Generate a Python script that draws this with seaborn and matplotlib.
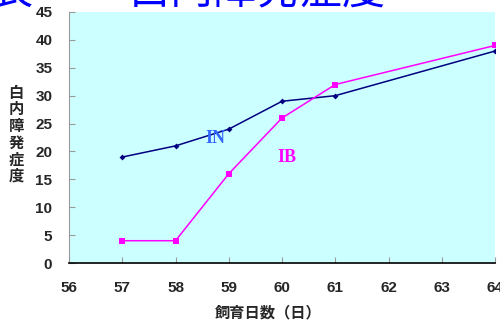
import matplotlib
matplotlib.use("Agg")
import matplotlib.pyplot as plt
import seaborn as sns
import pandas as pd

days = [57, 58, 59, 60, 61, 64]
in_values = [19, 21, 24, 29, 30, 38]
ib_values = [4, 4, 16, 26, 32, 39]
x_ticks = [56, 57, 58, 59, 60, 61, 62, 63, 64]
y_ticks = [0, 5, 10, 15, 20, 25, 30, 35, 40, 45]

sns.set_style("ticks")
plt.rcParams["font.family"] = ["Noto Sans CJK JP", "DejaVu Sans"]

df = pd.DataFrame({
    "day": days * 2,
    "score": in_values + ib_values,
    "group": ["IN"] * len(days) + ["IB"] * len(days),
})

fig = plt.figure(figsize=(5.0, 3.2), dpi=100)
ax = fig.add_axes([0.138, 0.178, 0.852, 0.7845])
ax.set_facecolor("#CCFFFF")

sns.lineplot(data=df[df.group == "IN"], x="day", y="score", ax=ax,
             color="#000080", marker="D", markersize=3, markeredgewidth=0,
             linewidth=1.1, legend=False)
sns.lineplot(data=df[df.group == "IB"], x="day", y="score", ax=ax,
             color="#FF00FF", marker="s", markersize=5, markeredgewidth=0,
             linewidth=1.1, legend=False)

ax.set_xlim(56, 64)
ax.set_ylim(0, 45)
ax.set_xticks(x_ticks)
ax.set_yticks(y_ticks)
ax.tick_params(axis="both", direction="in", length=4, color="#999999",
               labelsize=11)
ax.tick_params(axis="x", pad=13)
ax.tick_params(axis="y", pad=12)
for lab in ax.get_xticklabels() + ax.get_yticklabels():
    lab.set_fontweight("heavy")
    lab.set_family(["Liberation Sans", "DejaVu Sans"])

for s in ["top", "right"]:
    ax.spines[s].set_visible(False)
ax.spines["left"].set_color("#999999")
ax.spines["bottom"].set_color("black")
ax.spines["bottom"].set_linewidth(1.2)

ax.set_xlabel("")
ax.set_ylabel("")
fig.text(0.536, 0.025, "飼育日数（日）", fontsize=11, fontweight="bold",
         ha="center", va="center")
fig.text(0.032, 0.58, "白\n内\n障\n発\n症\n度", fontsize=11, fontweight="bold",
         ha="center", va="center", linespacing=1.05)

ax.text(58.75, 22.3, "IN", color="#3366FF", fontsize=13, fontweight="bold",
        family=["Liberation Serif", "DejaVu Serif"], ha="center", va="center")
ax.text(60.1, 19.0, "IB", color="#FF00FF", fontsize=13, fontweight="bold",
        family=["Liberation Serif", "DejaVu Serif"], ha="center", va="center")

# heading, mostly above the top edge
fig.text(-0.02, 0.958, "表", fontsize=31, color="#0000FF", ha="left", va="bottom")
fig.text(0.255, 0.958, "白内障発症度", fontsize=31, color="#0000FF",
         ha="left", va="bottom")

fig.savefig("out.png", dpi=100, facecolor="white")
